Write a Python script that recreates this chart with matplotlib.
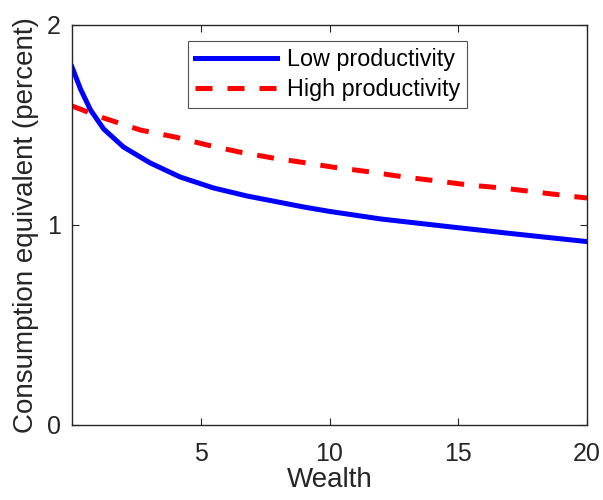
import matplotlib

matplotlib.use("Agg")
import matplotlib.pyplot as plt

# values
wealth_low = [0.0, 0.33, 0.72, 1.23, 2.0, 3.04, 4.2, 5.5, 6.8, 8.0, 9.0, 10.0,
              12.0, 14.4, 17.0, 20.0]
ce_low = [1.79, 1.68, 1.575, 1.48, 1.39, 1.31, 1.24, 1.185, 1.145, 1.115,
          1.09, 1.068, 1.03, 0.995, 0.958, 0.917]

wealth_high = [0.0, 1.23, 2.65, 4.0, 5.25, 6.5, 7.8, 8.86, 10.1, 11.6, 12.9,
               14.2, 15.4, 16.7, 18.0, 19.3, 20.0]
ce_high = [1.595, 1.535, 1.475, 1.44, 1.40, 1.365, 1.335, 1.315, 1.29, 1.265,
           1.24, 1.22, 1.20, 1.185, 1.165, 1.145, 1.135]

labels = ["Low productivity", "High productivity"]
x_ticks = [5, 10, 15, 20]
y_ticks = [0, 1, 2]

GRAY = "#262626"
plt.rcParams["font.family"] = ["Liberation Sans", "DejaVu Sans"]

fig = plt.figure(figsize=(6.03, 5.0), dpi=100)
ax = fig.add_axes([72 / 603, 75 / 500, 515 / 603, 400 / 500])

ax.plot(wealth_low, ce_low, color="#0000ff", lw=3.6, label=labels[0])
ax.plot(wealth_high, ce_high, color="#ff0000", lw=3.6, ls=(0, (3.4, 3.0)),
        label=labels[1])

ax.set_xlim(0, 20)
ax.set_ylim(0, 2)
ax.set_xticks(x_ticks)
ax.set_yticks(y_ticks)
ax.tick_params(direction="in", top=True, right=True, length=5, width=0.8,
               color=GRAY, labelcolor=GRAY, labelsize=18)
ax.tick_params(axis="x", pad=12)
ax.tick_params(axis="y", pad=8)
for s in ax.spines.values():
    s.set_color(GRAY)
    s.set_linewidth(1.0)

ax.set_xlabel("Wealth", fontsize=20, color=GRAY, labelpad=1)
ax.set_ylabel("Consumption equivalent (percent)", fontsize=20, color=GRAY,
              labelpad=6)

leg = ax.legend(loc="upper left", bbox_to_anchor=(116 / 515, 384 / 400),
                fontsize=16.8, frameon=True, fancybox=False,
                handlelength=3.5, handletextpad=0.45, borderpad=0.3,
                labelspacing=0.3, borderaxespad=0)
leg.get_frame().set_edgecolor(GRAY)
leg.get_frame().set_linewidth(0.8)

fig.savefig("out.png", dpi=100)
